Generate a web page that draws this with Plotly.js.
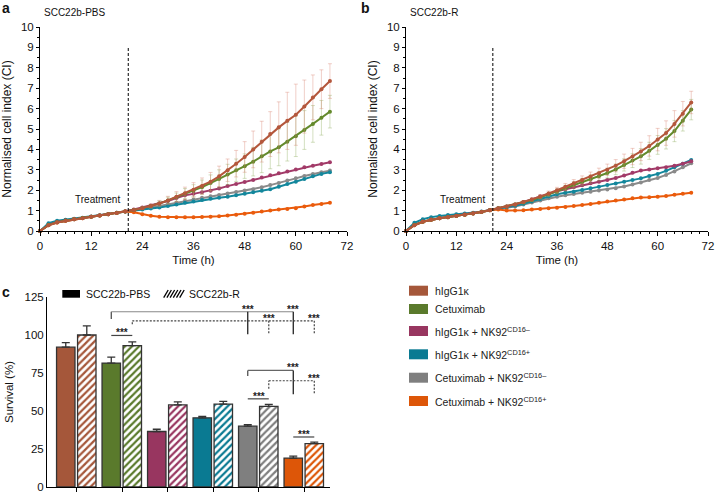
<!DOCTYPE html>
<html>
<head>
<meta charset="utf-8">
<script src="https://cdn.plot.ly/plotly-3.0.1.min.js"></script>
<style>html,body{margin:0;padding:0;background:#fff}#chart{width:718px;height:492px}</style>
</head>
<body>
<div id="chart"></div>
<script>
// time points (h)
const hours = [0,2,4,6,8,10,12,14,16,18,20,22,24,26,28,30,32,34,36,38,40,42,44,46,48,50,52,54,56,58,60,62,64,66,68];
const treatmentTime = 20.7;

// panel a : SCC22b-PBS
const igA       = [0,0.28,0.42,0.5,0.57,0.63,0.7,0.76,0.82,0.88,0.95,1.03,1.12,1.22,1.35,1.5,1.68,1.85,2.02,2.2,2.42,2.68,2.98,3.3,3.63,4.0,4.38,4.75,5.08,5.4,5.7,6.1,6.55,6.95,7.35];
const igErrA    = [0,0,0,0,0,0,0,0,0,0,0,0.03,0.06,0.1,0.15,0.2,0.25,0.3,0.35,0.4,0.45,0.5,0.55,0.65,0.75,0.9,1.0,1.1,1.25,1.4,1.5,1.3,1.1,0.95,0.85];
const cetA      = [0,0.29,0.43,0.51,0.58,0.64,0.7,0.76,0.82,0.89,0.96,1.03,1.12,1.22,1.35,1.5,1.66,1.83,1.97,2.15,2.35,2.55,2.77,2.98,3.18,3.4,3.66,3.9,4.1,4.38,4.65,4.95,5.25,5.55,5.85];
const cetErrA   = [0,0,0,0,0,0,0,0,0,0,0,0.03,0.05,0.08,0.12,0.16,0.2,0.25,0.3,0.35,0.4,0.45,0.5,0.55,0.6,0.7,0.8,0.85,0.9,0.95,1.0,0.95,0.9,0.85,0.8];
const igNkNegA  = [0,0.3,0.44,0.52,0.58,0.64,0.7,0.76,0.82,0.89,0.97,1.05,1.15,1.25,1.35,1.47,1.62,1.75,1.82,1.9,1.97,2.08,2.2,2.3,2.4,2.5,2.62,2.73,2.83,2.92,3.02,3.12,3.2,3.28,3.37];
const igNkPosA  = [0,0.38,0.5,0.55,0.6,0.65,0.71,0.77,0.83,0.89,0.95,1.0,1.05,1.1,1.15,1.22,1.3,1.38,1.45,1.52,1.58,1.63,1.68,1.75,1.82,1.9,1.97,2.05,2.17,2.3,2.42,2.55,2.68,2.8,2.88];
const cetNkNegA = [0,0.3,0.43,0.51,0.58,0.64,0.7,0.76,0.82,0.88,0.95,1.0,1.08,1.15,1.22,1.3,1.38,1.47,1.55,1.63,1.7,1.77,1.84,1.91,1.98,2.05,2.14,2.25,2.35,2.47,2.58,2.7,2.8,2.88,2.96];
const cetNkPosA = [0,0.28,0.42,0.5,0.57,0.63,0.7,0.76,0.82,0.88,0.95,0.92,0.82,0.75,0.7,0.68,0.67,0.67,0.68,0.69,0.7,0.72,0.76,0.8,0.85,0.9,0.95,1.0,1.05,1.08,1.12,1.2,1.27,1.32,1.38];

// panel b : SCC22b-R
const igB       = [0,0.28,0.45,0.55,0.62,0.68,0.74,0.8,0.86,0.93,1.02,1.12,1.2,1.3,1.42,1.55,1.68,1.84,2.0,2.17,2.34,2.5,2.67,2.83,3.0,3.2,3.42,3.65,3.9,4.17,4.48,4.8,5.25,5.75,6.3];
const igErrB    = [0,0,0,0,0,0,0,0,0,0,0,0.02,0.03,0.05,0.06,0.08,0.1,0.12,0.14,0.16,0.18,0.2,0.22,0.25,0.28,0.3,0.35,0.4,0.45,0.5,0.55,0.6,0.65,0.6,0.55];
const cetB      = [0,0.29,0.45,0.55,0.62,0.68,0.74,0.8,0.86,0.93,1.02,1.12,1.2,1.3,1.4,1.52,1.65,1.8,1.94,2.1,2.25,2.4,2.54,2.68,2.84,3.02,3.24,3.45,3.66,3.93,4.22,4.52,4.9,5.4,5.95];
const cetErrB   = [0,0,0,0,0,0,0,0,0,0,0,0.02,0.03,0.04,0.05,0.07,0.08,0.1,0.12,0.14,0.16,0.18,0.2,0.22,0.24,0.26,0.3,0.34,0.38,0.42,0.46,0.5,0.52,0.5,0.5];
const igNkNegB  = [0,0.3,0.46,0.56,0.63,0.69,0.75,0.81,0.87,0.94,1.03,1.12,1.2,1.3,1.42,1.55,1.7,1.82,1.95,2.05,2.14,2.24,2.34,2.42,2.5,2.6,2.72,2.85,2.96,3.02,3.07,3.13,3.2,3.3,3.42];
const igNkPosB  = [0,0.4,0.58,0.68,0.74,0.78,0.82,0.86,0.9,0.95,1.03,1.1,1.16,1.24,1.34,1.45,1.57,1.69,1.8,1.87,1.93,2.01,2.09,2.17,2.25,2.33,2.42,2.5,2.58,2.7,2.8,2.95,3.12,3.3,3.48];
const cetNkNegB = [0,0.3,0.45,0.55,0.62,0.68,0.74,0.8,0.86,0.93,1.02,1.1,1.14,1.2,1.3,1.4,1.5,1.6,1.68,1.75,1.81,1.87,1.93,1.98,2.04,2.1,2.18,2.28,2.38,2.5,2.6,2.75,2.92,3.12,3.32];
const cetNkPosB = [0,0.28,0.45,0.55,0.62,0.68,0.74,0.8,0.86,0.93,1.02,1.05,1.0,1.0,1.02,1.05,1.08,1.11,1.14,1.18,1.22,1.27,1.32,1.38,1.44,1.5,1.55,1.6,1.64,1.66,1.68,1.72,1.78,1.83,1.88];

// panel c : survival (%)
const groups   = ["hIgG1κ", "Cetuximab", "hIgG1κ + NK92<sup>CD16–</sup>", "hIgG1κ + NK92<sup>CD16+</sup>", "Cetuximab + NK92<sup>CD16–</sup>", "Cetuximab + NK92<sup>CD16+</sup>"];
const survPBS  = [92, 81.5, 36.5, 45.5, 40, 19];
const errPBS   = [3, 4, 1.5, 1, 1, 1.3];
const survR    = [100, 93, 54, 54.5, 53, 28.5];
const errR     = [6, 2.5, 2, 1.8, 1.3, 1];

const barColors  = ['#a5573a', '#5a7a2c', '#983660', '#0a7a92', '#7f7f7f', '#dd5608'];
const lineColors = ['#b4573c', '#648a2c', '#a23a68', '#13879c', '#8a8a8a', '#ea5b0c'];

const W = 718, H = 492;
const px = x => x / W;
const py = y => 1 - y / H;
const FONT = 'Liberation Sans, Arial, sans-serif';

function lineTrace(y, color, ax, err, errColor) {
    let t = {
        type: 'scatter', mode: 'lines+markers', x: hours, y: y,
        xaxis: 'x' + ax, yaxis: 'y' + ax,
        line: { color: color, width: 2 },
        marker: { color: color, size: 4 },
        showlegend: false, cliponaxis: false
    };
    if (err) t.error_y = { type: 'data', array: err, visible: true, color: errColor, thickness: 0.7, width: 2 };
    return t;
}

function panelTraces(ax, ig, igErr, cet, cetErr, igNeg, igPos, cetNeg, cetPos) {
    return [
        lineTrace(cetNeg, lineColors[4], ax),
        lineTrace(igPos, lineColors[3], ax),
        lineTrace(igNeg, lineColors[2], ax),
        lineTrace(cetPos, lineColors[5], ax),
        lineTrace(cet, lineColors[1], ax, cetErr, 'rgba(140,170,90,0.55)'),
        lineTrace(ig, lineColors[0], ax, igErr, 'rgba(215,130,110,0.55)')
    ];
}

let data = [];
data = data.concat(panelTraces('', igA, igErrA, cetA, cetErrA, igNkNegA, igNkPosA, cetNkNegA, cetNkPosA));
data = data.concat(panelTraces('2', igB, igErrB, cetB, cetErrB, igNkNegB, igNkPosB, cetNkNegB, cetNkPosB));

const idx = groups.map((g, i) => i);
const solidOff = -0.44, hatchOff = 0.022, barW = 0.405;
const solidX = i => i + solidOff + barW / 2;
const hatchX = i => i + hatchOff + barW / 2;

data.push({
    type: 'bar', x: idx, y: survPBS, xaxis: 'x3', yaxis: 'y3',
    width: barW, offset: solidOff, showlegend: false,
    marker: { color: barColors, line: { color: '#333', width: 1.3 } },
    error_y: { type: 'data', symmetric: false, array: errPBS, arrayminus: errPBS.map(() => 0), color: '#333', thickness: 1.3, width: 4 }
});
data.push({
    type: 'bar', x: idx, y: survR, xaxis: 'x3', yaxis: 'y3',
    width: barW, offset: hatchOff, showlegend: false,
    marker: {
        color: barColors,
        pattern: { shape: '/', bgcolor: 'white', fgcolor: barColors, size: 5, solidity: 0.45 },
        line: { color: '#333', width: 1.3 }
    },
    error_y: { type: 'data', symmetric: false, array: errR, arrayminus: errR.map(() => 0), color: '#333', thickness: 1.3, width: 4 }
});

// shapes
let shapes = [];
shapes.push({ type: 'line', xref: 'x', yref: 'y', x0: treatmentTime, x1: treatmentTime, y0: 0, y1: 9, line: { color: '#000', width: 1, dash: '3px,2px' } });
shapes.push({ type: 'line', xref: 'x2', yref: 'y2', x0: treatmentTime, x1: treatmentTime, y0: 0, y1: 9, line: { color: '#000', width: 1, dash: '3px,2px' } });

function seg(x0, y0, x1, y1, color, dash) {
    shapes.push({ type: 'line', xref: 'x3', yref: 'y3', x0: x0, y0: y0, x1: x1, y1: y1,
        line: { color: color, width: 1.2, dash: dash || 'solid' } });
}
// brackets, solid = vs PBS, dashed = vs R
seg(solidX(1), 110.5, solidX(1), 115.3, '#444');
seg(solidX(1), 115.3, solidX(5), 115.3, '#888');
seg(solidX(4), 115.3, solidX(4), 100.5, '#111');
seg(solidX(5), 115.3, solidX(5), 100.5, '#111');
seg(hatchX(1), 107, hatchX(1), 109.3, '#444', '2px,1.5px');
seg(hatchX(1), 109.3, hatchX(5), 109.3, '#444', '2px,1.5px');
seg(hatchX(4), 109.3, hatchX(4), 100.5, '#444', '2px,1.5px');
seg(hatchX(5), 109.3, hatchX(5), 100.5, '#444', '2px,1.5px');
seg(solidX(1), 99.7, hatchX(1), 99.7, '#444');
seg(solidX(4), 73, solidX(4), 76.7, '#444');
seg(solidX(4), 76.7, solidX(5), 76.7, '#666');
seg(solidX(5), 76.7, solidX(5), 61, '#111');
seg(hatchX(4), 64.6, hatchX(4), 69.9, '#444', '2px,1.5px');
seg(hatchX(4), 69.9, hatchX(5), 69.9, '#444', '2px,1.5px');
seg(hatchX(5), 69.9, hatchX(5), 61, '#444', '2px,1.5px');
seg(solidX(4), 58, hatchX(4), 58, '#444');
seg(solidX(5), 32.9, hatchX(5), 32.9, '#444');

// legend c (top)
shapes.push({ type: 'rect', xref: 'paper', yref: 'paper', x0: px(62.3), x1: px(80), y0: py(297.7), y1: py(290), fillcolor: '#000', line: { width: 0 } });
for (let k = 0; k < 6; k++) {
    let xa = 165.7 + k * 3.2;
    shapes.push({ type: 'line', xref: 'paper', yref: 'paper', x0: px(xa - 2), y0: py(297.7), x1: px(xa + 2.5), y1: py(290), line: { color: '#000', width: 1.3 } });
}
// legend right
const rowY = [290.7, 309, 331, 354.3, 377.7, 401];
let annotations = [];
groups.forEach((g, i) => {
    shapes.push({ type: 'rect', xref: 'paper', yref: 'paper', x0: px(409), x1: px(428), y0: py(rowY[i] + 5), y1: py(rowY[i] - 5), fillcolor: barColors[i], line: { width: 0 } });
    annotations.push({ xref: 'paper', yref: 'paper', x: px(432.5), y: py(rowY[i]), text: g, showarrow: false, xanchor: 'left', yanchor: 'middle', font: { size: 10.5, color: '#222' } });
});

function txt(x, y, text, size, extra) {
    annotations.push(Object.assign({ xref: 'paper', yref: 'paper', x: px(x), y: py(y), text: text, showarrow: false, xanchor: 'left', yanchor: 'middle', font: { size: size, color: '#111' } }, extra || {}));
}
txt(0, 8, '<b>a</b>', 14);
txt(42, 12, 'SCC22b-PBS', 10);
txt(359, 8, '<b>b</b>', 14);
txt(408, 12, 'SCC22b-R', 10);
txt(0, 292, '<b>c</b>', 14);
txt(84, 294, 'SCC22b-PBS', 10.5);
txt(187, 294, 'SCC22b-R', 10.5);

annotations.push({ xref: 'x', yref: 'y', x: 19.3, y: 1.55, text: 'Treatment', showarrow: false, xanchor: 'right', font: { size: 10, color: '#111' } });
annotations.push({ xref: 'x2', yref: 'y2', x: 19.3, y: 1.55, text: 'Treatment', showarrow: false, xanchor: 'right', font: { size: 10, color: '#111' } });

function stars(x, y) {
    annotations.push({ xref: 'x3', yref: 'y3', x: x, y: y, text: '<b>***</b>', showarrow: false, xanchor: 'center', yanchor: 'bottom', yshift: -5, font: { size: 10, color: '#222' } });
}
stars(solidX(4), 115.3);
stars(solidX(5), 115.3);
stars(hatchX(4), 109.3);
stars(hatchX(5), 109.3);
stars(1, 99.7);
stars(solidX(5), 76.7);
stars(hatchX(5), 69.9);
stars(4, 58);
stars(5, 32.9);

const axBase = {
    showline: true, linecolor: '#000', linewidth: 1, showgrid: false, zeroline: false,
    ticks: 'outside', tickcolor: '#000', automargin: false, ticklabeloverflow: 'allow',
    tickfont: { size: 11.5, color: '#111' }
};

function timeAxis(domain, anchor) {
    return Object.assign({}, axBase, {
        domain: domain, anchor: anchor, range: [0, 72], tickvals: [0, 12, 24, 36, 48, 60, 72], ticklen: 4,
        minor: { dtick: 2, ticklen: 2, ticks: 'outside', tickcolor: '#000' },
        title: { text: 'Time (h)', font: { size: 11.5, color: '#111' }, standoff: 5 }
    });
}
function ciAxis(domain, anchor) {
    return Object.assign({}, axBase, {
        domain: domain, anchor: anchor, range: [0, 10], dtick: 1, ticklen: 3,
        minor: { dtick: 0.5, ticklen: 2, ticks: 'outside', tickcolor: '#000' },
        title: { text: 'Normalised cell index (CI)', font: { size: 12, color: '#111' }, standoff: 6 }
    });
}

const layout = {
    width: W, height: H,
    margin: { l: 0, r: 0, t: 0, b: 0 },
    paper_bgcolor: '#fff', plot_bgcolor: '#fff',
    font: { family: FONT, color: '#111' },
    showlegend: false,
    bargap: 0,
    xaxis: timeAxis([px(40), px(347)], 'y'),
    yaxis: ciAxis([py(231), py(27)], 'x'),
    xaxis2: timeAxis([px(406), px(708)], 'y2'),
    yaxis2: ciAxis([py(231), py(27)], 'x2'),
    xaxis3: Object.assign({}, axBase, {
        domain: [px(47), px(330)], anchor: 'y3', range: [-0.65, 5.57],
        tickvals: idx, showticklabels: false, ticklen: 4
    }),
    yaxis3: Object.assign({}, axBase, {
        domain: [py(487), py(297)], anchor: 'x3', range: [0, 125],
        tickvals: [0, 25, 50, 75, 100, 125], ticks: '', ticklen: 0,
        title: { text: 'Survival (%)', font: { size: 11.5, color: '#111' }, standoff: 8 }
    }),
    shapes: shapes,
    annotations: annotations
};

Plotly.newPlot('chart', data, layout, { staticPlot: true });
</script>
</body>
</html>
